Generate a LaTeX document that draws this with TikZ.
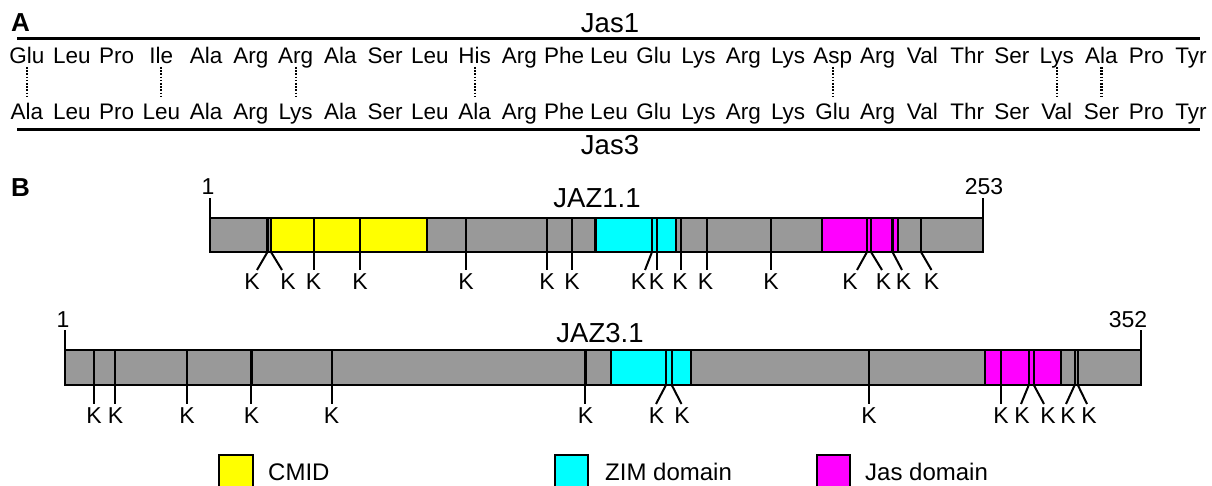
\documentclass[tikz,border=0pt]{standalone}
\usepackage{fontspec}
\setmainfont{Liberation Sans}
\newcommand\myfs[1]{\fontsize{#1}{#1}\selectfont}
\definecolor{bargray}{HTML}{999999}
\definecolor{cmidc}{HTML}{FFFF00}
\definecolor{zimc}{HTML}{00FFFF}
\definecolor{jasc}{HTML}{FF00FF}
\begin{document}
\begin{tikzpicture}[x=1pt,y=-1pt,
  res/.style={anchor=base,inner sep=0pt,font=\myfs{22.5}},
  panel/.style={anchor=base west,inner sep=0pt,font=\bfseries\myfs{26}},
  title/.style={anchor=base,inner sep=0pt,font=\myfs{27.5}},
  num/.style={anchor=base,inner sep=0pt,font=\myfs{23}},
  klab/.style={anchor=base,inner sep=0pt,font=\myfs{23}},
  legtext/.style={anchor=base west,inner sep=0pt,font=\myfs{24}},
  rule/.style={line width=2.4pt},
  dotline/.style={line width=2.2pt,dash pattern=on 1.6pt off 1.6pt},
  barbox/.style={draw=black,line width=2.6pt},
  dom/.style={draw=black,line width=2.2pt},
  site/.style={line width=2.2pt},
  conn/.style={line width=2pt},
  tick/.style={line width=2.4pt}]
\useasboundingbox (0,0) rectangle (1212,486);
\clip (0,0) rectangle (1212,486);

% ---------- Panel A ----------
\node[panel] (pA) at (11,32) {A};
\node[title] (jas1) at (610,33) {Jas1};
\coordinate (lt1) at (17,38.5);
\coordinate (lt2) at (1200,38.5);
\draw[rule] (lt1) -- (lt2);
\foreach \r [count=\i] in {Glu,Leu,Pro,Ile,Ala,Arg,Arg,Ala,Ser,Leu,His,Arg,Phe,Leu,Glu,Lys,Arg,Lys,Asp,Arg,Val,Thr,Ser,Lys,Ala,Pro,Tyr}
  \node[res] (t\i) at ({27+(\i-1)*44.77},64) {\r};
\foreach \r [count=\i] in {Ala,Leu,Pro,Leu,Ala,Arg,Lys,Ala,Ser,Leu,Ala,Arg,Phe,Leu,Glu,Lys,Arg,Lys,Glu,Arg,Val,Thr,Ser,Val,Ser,Pro,Tyr}
  \node[res] (b\i) at ({27+(\i-1)*44.77},119.5) {\r};
\coordinate (dA) at (0,67);
\coordinate (dB) at (0,98);
\foreach \i in {1,4,7,11,19,24,25}
  \draw[dotline] (t\i.base |- dA) -- (b\i.base |- dB);
\coordinate (lb1) at (17,129.5);
\coordinate (lb2) at (1200,129.5);
\draw[rule] (lb1) -- (lb2);
\node[title] (jas3) at (610,155) {Jas3};

% ---------- Panel B ----------
\node[panel] (pB) at (11,197) {B};

% JAZ1.1
\node[title] (jaz1) at (597,208) {JAZ1.1};
\fill[bargray] (210,218) rectangle (983,252);
\filldraw[dom,fill=cmidc] (271,218) rectangle (427,252);
\filldraw[dom,fill=zimc] (595.5,218) rectangle (675.7,252);
\filldraw[dom,fill=jasc] (822.3,218) rectangle (898,252);
\foreach \s in {267.5,271,314,360,466,547,572,652,657,681,707,771,867,871,892.5,921}
  \draw[site] (\s,218) -- (\s,252);
\draw[barbox] (210,218) rectangle (983,252);
\coordinate (a1top) at (210,218);
\coordinate (a1tick) at (210,198);
\draw[tick] (a1top) -- (a1tick);
\node[num] (n1a) at (208,195) {1};
\coordinate (a2top) at (983,218);
\coordinate (a2tick) at (983,198);
\draw[tick] (a2top) -- (a2tick);
\node[num] (n253) at (984,195) {253};
\foreach \s/\e/\k [count=\j] in {267.5/257/252,271/282/288,314/314/313.5,360/360/360,466/466/466,547/547/547,572/572/572,652/645/638.5,657/657/656.5,681/681/680,707/707/705.5,771/771/771,867/857/850,871/882/883.5,892.5/902/903.5,921/931.5/931.5}{
  \coordinate (sa\j) at (\s,252);
  \coordinate (ea\j) at (\e,270);
  \draw[conn] (sa\j) -- (ea\j);
  \node[klab] (ka\j) at (\k,289) {K};
}

% JAZ3.1
\node[title] (jaz3) at (600,342) {JAZ3.1};
\fill[bargray] (65,350) rectangle (1141,385);
\filldraw[dom,fill=zimc] (610.9,350) rectangle (690.9,385);
\filldraw[dom,fill=jasc] (984.8,350) rectangle (1061.3,385);
\foreach \s in {94.3,115,187,251.4,331.8,585.4,666,671.7,868.8,1000.9,1028.8,1033.8,1074.7,1077.8}
  \draw[site] (\s,350) -- (\s,385);
\draw[barbox] (65,350) rectangle (1141,385);
\coordinate (b1top) at (65,350);
\coordinate (b1tick) at (65,330);
\draw[tick] (b1top) -- (b1tick);
\node[num] (n1b) at (63,327) {1};
\coordinate (b2top) at (1141,350);
\coordinate (b2tick) at (1141,330);
\draw[tick] (b2top) -- (b2tick);
\node[num] (n352) at (1128,327) {352};
\foreach \s/\e/\k [count=\j] in {94.3/94.3/94,115/115/115.5,187/187/187,251.4/251.4/251.5,331.8/331.8/331.5,585.4/585.4/585.5,666/656/656.5,671.7/681.5/682,868.8/868.8/869,1000.9/1000.9/1001,1028.8/1021/1022,1033.8/1044/1048,1074.7/1066/1068,1077.8/1087/1089}{
  \coordinate (sb\j) at (\s,385);
  \coordinate (eb\j) at (\e,404);
  \draw[conn] (sb\j) -- (eb\j);
  \node[klab] (kb\j) at (\k,423) {K};
}

% ---------- Legend ----------
\filldraw[dom,fill=cmidc] (219,455) rectangle (253,492);
\node[legtext] (lcmid) at (268,480) {CMID};
\filldraw[dom,fill=zimc] (555,455) rectangle (588,492);
\node[legtext] (lzim) at (605,480) {ZIM domain};
\filldraw[dom,fill=jasc] (816.7,455) rectangle (850,492);
\node[legtext] (ljas) at (865,480) {Jas domain};
\end{tikzpicture}
\end{document}
